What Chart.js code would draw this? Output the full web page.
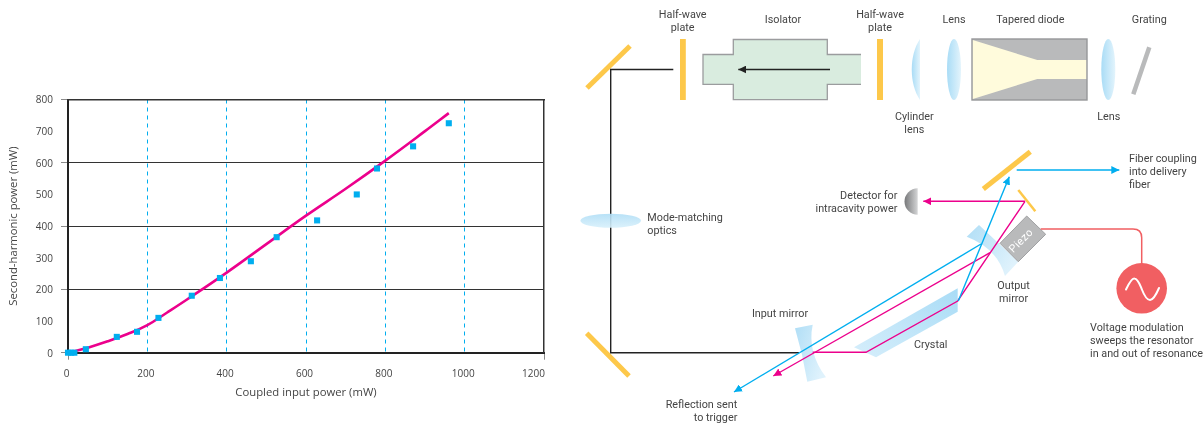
<!DOCTYPE html>
<html>
<head>
<meta charset="utf-8">
<script src="https://cdn.jsdelivr.net/npm/chart.js@4"></script>
<style>
html,body{margin:0;padding:0;background:#fff;width:1203px;height:423px;overflow:hidden}
#chart{position:absolute;left:0;top:0}
#diagram{position:absolute;left:0;top:0}
#diagram text{font-family:Roboto,sans-serif;font-size:10.8px;fill:#444}
</style>
</head>
<body>
<canvas id="chart" width="570" height="423"></canvas>
<svg id="diagram" width="1203" height="423" viewBox="0 0 1203 423" xmlns="http://www.w3.org/2000/svg">
<defs>
<linearGradient id="lensH" x1="0" x2="1" y1="0" y2="0"><stop offset="0" stop-color="#a9dcf6"/><stop offset="1" stop-color="#e3f4fc"/></linearGradient>
<linearGradient id="lensV" x1="0" x2="0" y1="0" y2="1"><stop offset="0" stop-color="#b0def6"/><stop offset="1" stop-color="#d8f0fb"/></linearGradient>
<linearGradient id="lensD" x1="0" x2="1" y1="1" y2="0"><stop offset="0" stop-color="#d6eefb"/><stop offset="1" stop-color="#a9dcf6"/></linearGradient>
<linearGradient id="mirrorG" x1="0" x2="1" y1="0" y2="0.6"><stop offset="0" stop-color="#b0def6"/><stop offset="1" stop-color="#dff2fc"/></linearGradient>
<linearGradient id="det" x1="0" x2="1" y1="0" y2="0"><stop offset="0" stop-color="#77787a"/><stop offset="1" stop-color="#d4d5d6"/></linearGradient>
<marker id="aBlue" markerUnits="userSpaceOnUse" markerWidth="9" markerHeight="8" refX="8" refY="4" orient="auto"><path d="M0 0L8 4L0 8z" fill="#00aeef"/></marker>
<marker id="aPink" markerUnits="userSpaceOnUse" markerWidth="9" markerHeight="8" refX="8" refY="4" orient="auto"><path d="M0 0L8 4L0 8z" fill="#ec008c"/></marker>
<marker id="aBlack" markerUnits="userSpaceOnUse" markerWidth="9" markerHeight="8" refX="8" refY="4" orient="auto"><path d="M0 0L8 4L0 8z" fill="#222"/></marker>
</defs>

<!-- top row -->
<path d="M703 54.5H733.3V39.5H827.3V54.5H861V84.3H827.3V99.7H733.3V84.3H703Z" fill="#d9ecdf"/>
<path d="M861 54.5H827.3V39.5H733.3V54.5H703V84.3H733.3V99.7H827.3V84.3H861" fill="none" stroke="#9b9c9e" stroke-width="1.3"/>
<rect x="680" y="39" width="5.8" height="61" fill="#fdc84a"/>
<rect x="877" y="39" width="6" height="61" fill="#fdc84a"/>
<path d="M920 39C909 55 909 84 920 100Z" fill="url(#lensH)"/>
<ellipse cx="954" cy="69.5" rx="7" ry="30.5" fill="url(#lensH)"/>
<rect x="972" y="39" width="115" height="61" fill="#b9babb" stroke="#969799" stroke-width="1.4"/>
<path d="M972.8 40L1037.3 60H1086.2V79H1037.3L972.8 99Z" fill="#fffbdc"/>
<ellipse cx="1108.3" cy="69.5" rx="7" ry="30.5" fill="url(#lensH)"/>
<line x1="1149.3" y1="47.3" x2="1133.3" y2="94.3" stroke="#b9babb" stroke-width="4.5"/>
<line x1="830" y1="69.5" x2="738.3" y2="69.5" stroke="#222" stroke-width="1.4" marker-end="url(#aBlack)"/>

<!-- folded beam -->
<line x1="587" y1="88" x2="630" y2="46" stroke="#fdc84a" stroke-width="5"/>
<line x1="586.7" y1="333.3" x2="629" y2="376" stroke="#fdc84a" stroke-width="5"/>
<path d="M673.3 69.5H610.7V352.7H799" fill="none" stroke="#222" stroke-width="1.4"/>
<ellipse cx="610.7" cy="220.7" rx="30.3" ry="7" fill="url(#lensV)" fill-opacity="0.9"/>

<!-- resonator -->
<path d="M854 347.3L957.7 288.3V311.7L876 357.3Z" fill="url(#lensD)"/>
<path d="M795 328.3L812.7 324.7Q807 352 826 377.3L807.3 381.7Q803 355 795 328.3Z" fill="url(#mirrorG)"/>
<path d="M966.7 236.7L979 225L1018.3 261.7L1005 276Q997 248 966.7 236.7Z" fill="url(#mirrorG)"/>
<line x1="983.3" y1="189" x2="1030.3" y2="151.7" stroke="#fdc84a" stroke-width="5"/>
<line x1="1018.3" y1="190" x2="1035.3" y2="211.3" stroke="#fdc84a" stroke-width="2.5"/>
<path d="M1026.7 216L1045.7 234.3L1018.3 261.7L1000 243.3Z" fill="#b9babb" stroke="#a0a1a3" stroke-width="1"/>
<text transform="translate(1023.5 243) rotate(-45)" text-anchor="middle" style="fill:#fff;font-size:10.8px;letter-spacing:.5px">Piezo</text>

<g fill="none" stroke="#ec008c" stroke-width="1.4">
<path d="M812.7 352.3H866L957.7 301L1025 201.3"/>
<line x1="1025" y1="201.3" x2="923.3" y2="201.3" marker-end="url(#aPink)"/>
<line x1="990" y1="252.7" x2="773.3" y2="376" marker-end="url(#aPink)"/>
</g>
<g fill="none" stroke="#00aeef" stroke-width="1.4">
<line x1="958.3" y1="301" x2="1009.3" y2="176.7" marker-end="url(#aBlue)"/>
<line x1="981" y1="244" x2="734" y2="392" marker-end="url(#aBlue)"/>
<line x1="1016.7" y1="170" x2="1119.3" y2="170" marker-end="url(#aBlue)"/>
</g>
<path d="M917.7 188.3A13.2 13.2 0 0 0 917.7 214.7Z" fill="url(#det)"/>

<!-- modulation -->
<path d="M1040.7 229H1133Q1141.7 229 1141.7 237.7V264" fill="none" stroke="#f15f62" stroke-width="1.5"/>
<circle cx="1141.7" cy="288.3" r="25.3" fill="#f15f62"/>
<path d="M1126 289.5C1130 281 1133 278 1134.5 278.5C1138 279 1139.5 284 1141.7 289C1144 295 1147 300 1150 300C1153 300 1156 295 1159 288" fill="none" stroke="#fff" stroke-width="2" stroke-linecap="round"/>

<!-- labels -->
<g text-anchor="middle">
<text x="682.7" y="18">Half-wave</text><text x="682.7" y="31">plate</text>
<text x="783" y="23">Isolator</text>
<text x="880" y="18">Half-wave</text><text x="880" y="31">plate</text>
<text x="954" y="23">Lens</text>
<text x="1030.3" y="23">Tapered diode</text>
<text x="1149.3" y="23">Grating</text>
<text x="914.3" y="120">Cylinder</text><text x="914.3" y="133">lens</text>
<text x="1108.7" y="120">Lens</text>
<text x="1013.6" y="289">Output</text><text x="1013.6" y="302">mirror</text>
<text x="780" y="317">Input mirror</text>
<text x="930.7" y="348">Crystal</text>
</g>
<g text-anchor="end">
<text x="897.3" y="199">Detector for</text><text x="897.3" y="212">intracavity power</text>
<text x="737.3" y="408">Reflection sent</text><text x="737.3" y="421">to trigger</text>
</g>
<text x="647.3" y="221">Mode-matching</text><text x="647.3" y="234">optics</text>
<text x="1129" y="162">Fiber coupling</text><text x="1129" y="175">into delivery</text><text x="1129" y="188">fiber</text>
<text x="1090" y="331">Voltage modulation</text><text x="1090" y="344">sweeps the resonator</text><text x="1090" y="357">in and out of resonance</text>
</svg>
<script>
const measuredInput = [0, 8, 16, 45, 123, 174, 228, 312, 383, 461, 526, 628, 728, 779, 870, 960];
const measuredOutput = [0, 0, 0, 11, 50, 66, 110, 180, 236, 289, 365, 418, 500, 582, 652, 725];
const fitInput = [0, 50, 100, 150, 200, 250, 300, 400, 500, 600, 700, 800, 900, 960];
const fitOutput = [0, 16, 36, 59, 87, 127, 168, 253, 343, 433, 518, 607, 700, 757];
const xAxisTitle = 'Coupled input power (mW)';
const yAxisTitle = 'Second-harmonic power (mW)';
const tickFont = {family: '"Open Sans", sans-serif', size: 10};
const titleFont = {family: '"Open Sans", sans-serif', size: 11.3};
const zip = (a, b) => a.map((v, i) => ({x: v, y: b[i]}));

new Chart(document.getElementById('chart'), {
  type: 'scatter',
  data: {datasets: [
    {label: 'Measured', data: zip(measuredInput, measuredOutput), pointStyle: 'rect', pointRadius: 4.3, pointHoverRadius: 4.3,
     backgroundColor: '#00aeef', borderColor: '#00aeef', borderWidth: 0, showLine: false, clip: false},
    {label: 'Fit', data: zip(fitInput, fitOutput), showLine: true, pointRadius: 0, borderColor: '#ec008c',
     borderWidth: 2.6, tension: 0.4, clip: false}
  ]},
  options: {
    responsive: false, animation: false, devicePixelRatio: 1,
    layout: {padding: {top: 99.5, right: 26, bottom: 0, left: 0}},
    plugins: {legend: {display: false}, tooltip: {enabled: false}},
    scales: {
      x: {type: 'linear', min: 0, max: 1200, position: 'bottom',
        afterFit: s => { s.height = 70.3; s.paddingLeft = 0; s.paddingRight = 0; },
        border: {color: '#222', width: 2, dash: [4, 4]},
        grid: {color: c => (c.tick && (c.tick.value === 0 || c.tick.value === 1200)) ? 'rgba(0,0,0,0)' : '#00aeef', lineWidth: 1,
               tickColor: c => (c.tick && (c.tick.value === 0 || c.tick.value === 1200)) ? '#8a8a8a' : 'rgba(0,0,0,0)', tickLength: 7, tickBorderDash: [], z: 0},
        ticks: {stepSize: 200, color: '#444', font: tickFont, padding: 8, labelOffset: -1.5, maxRotation: 0, autoSkip: false,
                callback: v => v === 1200 ? '1200       ' : String(v)},
        title: {display: true, text: xAxisTitle, color: '#444', font: titleFont, padding: {top: 0, bottom: 23}}},
      y: {type: 'linear', min: 0, max: 800, position: 'left',
        afterFit: s => { s.width = 68; s.paddingTop = 0; s.paddingBottom = 0; },
        border: {color: '#222', width: 2},
        grid: {color: c => (c.tick && c.tick.value % 200 === 0) ? '#333' : 'rgba(0,0,0,0)', lineWidth: 1,
               tickColor: c => (c.tick && c.tick.value % 200 === 0) ? '#8a8a8a' : 'rgba(0,0,0,0)', tickLength: 7},
        ticks: {stepSize: 100, color: '#444', font: tickFont, padding: 8, labelOffset: 1},
        title: {display: true, text: yAxisTitle, color: '#444', font: titleFont, padding: {top: 7, bottom: 0}}},
      xTop: {type: 'linear', min: 0, max: 1200, position: 'top', display: true,
        border: {color: '#333', width: 1.5}, grid: {drawOnChartArea: false, drawTicks: false}, ticks: {display: false}},
      yRight: {type: 'linear', min: 0, max: 800, position: 'right', display: true,
        border: {color: '#333', width: 1.5}, grid: {drawOnChartArea: false, drawTicks: false}, ticks: {display: false}}
    }
  }
});
</script>
</body>
</html>
